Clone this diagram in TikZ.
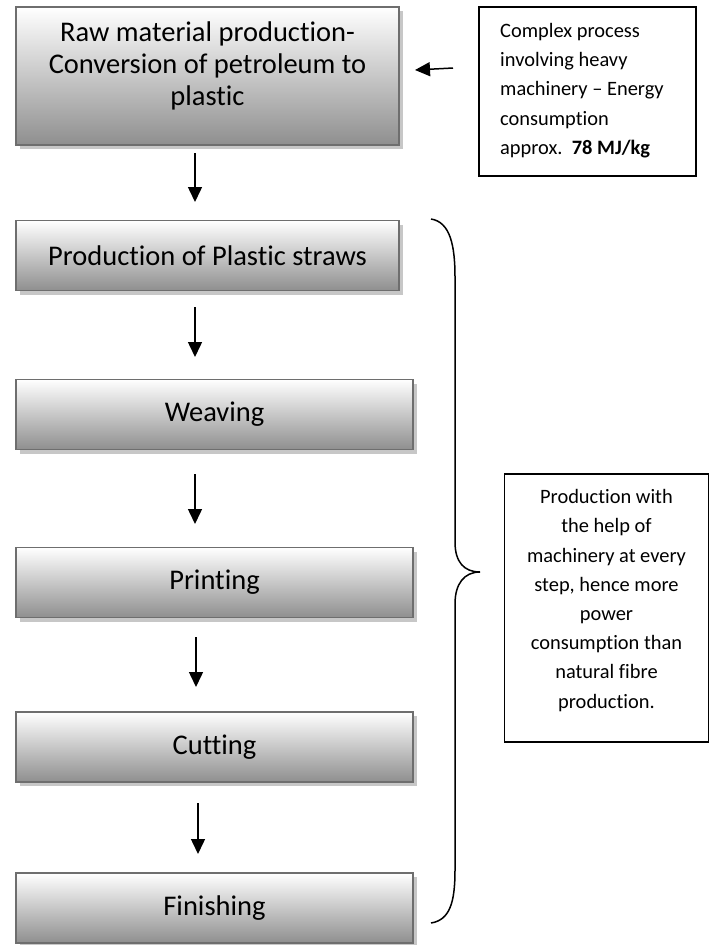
\documentclass[tikz,border=0pt]{standalone}
\usepackage{fontspec}
\setmainfont{Carlito}[Ligatures={TeX,NoCommon}]
\usetikzlibrary{arrows.meta,shadows}
\begin{document}
\begin{tikzpicture}[x=1bp,y=-1bp,
  stepbox/.style={draw=black!57, line width=1.8bp, top color=white, bottom color=black!44,
    minimum height=70bp, align=center, inner sep=0pt,
    font=\fontsize{28.6}{32.5}\selectfont,
    drop shadow={shadow xshift=4bp, shadow yshift=-4bp, fill=black!22, opacity=1}},
  narrowbox/.style={stepbox, minimum width=383bp},
  widebox/.style={stepbox, minimum width=397bp},
  notebox/.style={draw=black, line width=1.5bp, fill=white, inner sep=0pt},
  notefont/.style={font=\fontsize{20.5}{29.3}\selectfont},
  flow/.style={-{Triangle[width=14bp,length=15bp]}, line width=1.5bp},
  bracepath/.style={line width=1.5bp}
]
\useasboundingbox (0,0) rectangle (710,945);

% process steps
\node[narrowbox, minimum height=138bp] (raw) at (207.5,76) {};
\node[align=center, inner sep=0pt, font=\fontsize{28.6}{32.5}\selectfont] (rawtext) at (207.5,66)
  {Raw material production-\\Conversion of petroleum to\\plastic};
\node[narrowbox] (straws) at (207.5,255.5) {Production of Plastic straws};
\node[widebox] (weave) at (214.5,414.5) {Weaving};
\node[widebox] (print) at (214.5,582.5) {Printing};
\node[widebox] (cut) at (214.5,747) {Cutting};
\node[widebox] (finish) at (214.5,908) {Finishing};

% arrows between the steps
\coordinate (a1s) at (195,153); \coordinate (a1e) at (195,202);
\coordinate (a2s) at (195,307); \coordinate (a2e) at (195,357);
\coordinate (a3s) at (195,474); \coordinate (a3e) at (195,524);
\coordinate (a4s) at (196,637); \coordinate (a4e) at (196,687);
\coordinate (a5s) at (198,803); \coordinate (a5e) at (198,854);
\draw[flow] (a1s) -- (a1e);
\draw[flow] (a2s) -- (a2e);
\draw[flow] (a3s) -- (a3e);
\draw[flow] (a4s) -- (a4e);
\draw[flow] (a5s) -- (a5e);

% energy note for raw material stage
\node[notebox, minimum width=217bp, minimum height=169bp] (energy) at (587.5,91.5) {};
\node[notefont, align=left, anchor=west, inner sep=0pt] (energytext) at (500,90.5)
  {Complex process\\involving heavy\\machinery – Energy\\consumption\\approx.\ \ \textbf{78 MJ/kg}};
\coordinate (ls) at (453,68); \coordinate (le) at (415,70);
\draw[flow] (ls) -- (le);

% brace grouping the plastic straw production steps
\coordinate (bt) at (431,219);
\coordinate (b1) at (455,277);
\coordinate (b2) at (455,542);
\coordinate (tip) at (480,572);
\coordinate (b3) at (455,604);
\coordinate (b4) at (455,870);
\coordinate (bb) at (431,923);
\draw[bracepath] (bt) .. controls (450,222) and (455,245) .. (b1) -- (b2)
  .. controls (455,562) and (464,572) .. (tip)
  .. controls (464,572) and (455,584) .. (b3) -- (b4)
  .. controls (455,902) and (450,920) .. (bb);

% power note
\node[notebox, minimum width=204bp, minimum height=268bp] (power) at (606.5,608) {};
\node[notefont, align=center, inner sep=0pt] (powertext) at (606.5,600.5)
  {Production with\\the help of\\machinery at every\\step, hence more\\power\\consumption than\\natural fibre\\production.};
\end{tikzpicture}
\end{document}
